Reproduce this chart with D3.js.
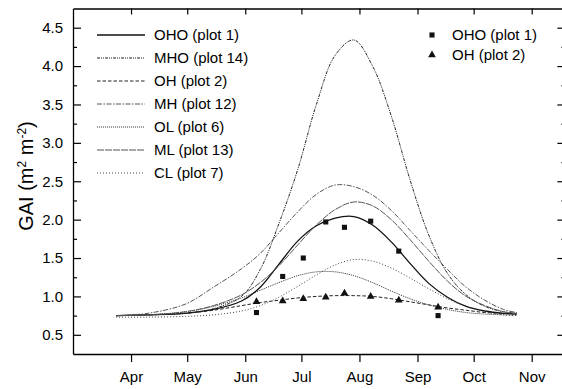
<!DOCTYPE html>
<html>
<head>
<meta charset="utf-8">
<script src="https://cdn.jsdelivr.net/npm/d3@7"></script>
<style>
  html, body { margin: 0; padding: 0; background: #fff; }
  svg { display: block; font-family: "Liberation Sans", Arial, sans-serif; }
</style>
</head>
<body>
<svg id="chart" width="562" height="389"></svg>
<script>
// Sampling dates of the fitted GAI curves (2005 calendar)
const curveDates = ["2005-03-24","2005-04-10","2005-04-30","2005-05-15","2005-05-30","2005-06-09",
  "2005-06-19","2005-06-29","2005-07-09","2005-07-19","2005-07-29","2005-08-08","2005-08-18",
  "2005-08-28","2005-09-07","2005-09-17","2005-09-27","2005-10-07","2005-10-17","2005-10-24"];

// Fitted green area index per treatment (m2 m-2)
const gaiOHO = [0.75,0.76,0.78,0.83,0.94,1.12,1.42,1.72,1.92,2.02,2.04,1.93,1.71,1.43,1.17,0.99,0.87,0.81,0.78,0.77];
const gaiMHO = [0.75,0.76,0.78,0.84,1.00,1.35,1.95,2.65,3.50,4.14,4.34,4.00,3.35,2.52,1.80,1.30,1.02,0.87,0.80,0.78];
const gaiOH  = [0.75,0.76,0.78,0.82,0.88,0.92,0.95,0.98,1.00,1.01,1.01,1.00,0.97,0.93,0.89,0.85,0.82,0.79,0.78,0.77];
const gaiMH  = [0.75,0.78,0.90,1.12,1.36,1.56,1.83,2.10,2.33,2.45,2.43,2.32,2.12,1.86,1.60,1.35,1.12,0.95,0.83,0.79];
const gaiOL  = [0.75,0.76,0.80,0.87,0.98,1.08,1.18,1.27,1.32,1.32,1.27,1.18,1.07,0.97,0.89,0.83,0.79,0.77,0.76,0.76];
const gaiML  = [0.75,0.76,0.80,0.88,1.02,1.18,1.40,1.67,1.93,2.13,2.23,2.18,2.00,1.74,1.46,1.20,1.00,0.88,0.80,0.78];
const gaiCL  = [0.73,0.73,0.74,0.76,0.81,0.88,0.99,1.13,1.28,1.41,1.48,1.46,1.37,1.24,1.10,0.97,0.87,0.80,0.76,0.75];

// Measured GAI on sampling days
const obsDates = ["2005-06-07","2005-06-21","2005-07-02","2005-07-14","2005-07-24","2005-08-07","2005-08-22","2005-09-12"];
const obsOHO = [0.79,1.26,1.50,1.97,1.90,1.98,1.59,0.75];
const obsOH  = [0.93,0.94,0.97,0.99,1.04,1.00,0.95,0.86];

// Axis ticks
const monthTicks = ["2005-04-01","2005-05-01","2005-06-01","2005-07-01","2005-08-01","2005-09-01","2005-10-01","2005-11-01"];
const yTicks = [0.5,1.0,1.5,2.0,2.5,3.0,3.5,4.0,4.5];
const yMinorTicks = [0.75,1.25,1.75,2.25,2.75,3.25,3.75,4.25];

const curveLabels = ["OHO (plot 1)","MHO (plot 14)","OH (plot 2)","MH (plot 12)","OL (plot 6)","ML (plot 13)","CL (plot 7)"];
const pointLabels = ["OHO (plot 1)","OH (plot 2)"];

const parse = d3.timeParse("%Y-%m-%d");
const svg = d3.select("#chart");

const x = d3.scaleTime()
  .domain([parse("2005-03-01"), parse("2005-11-19")])
  .range([73, 565.4]);
const y = d3.scaleLinear().domain([0.25, 4.75]).range([354, 8.5]);

const curves = [
  { name: curveLabels[0], values: gaiOHO, stroke: "#111", width: 1.3, dash: null },
  { name: curveLabels[1], values: gaiMHO, stroke: "#222", width: 1.0, dash: "3,1,1,1,1,1" },
  { name: curveLabels[2], values: gaiOH,  stroke: "#222", width: 1.0, dash: "3.5,2" },
  { name: curveLabels[3], values: gaiMH,  stroke: "#555", width: 1.0, dash: "5,1.5,1.5,1.5" },
  { name: curveLabels[4], values: gaiOL,  stroke: "#333", width: 1.0, dash: "1,1" },
  { name: curveLabels[5], values: gaiML,  stroke: "#555", width: 1.0, dash: "7,1" },
  { name: curveLabels[6], values: gaiCL,  stroke: "#444", width: 1.0, dash: "1,2" }
];

const line = d3.line()
  .x(d => x(d.date))
  .y(d => y(d.v))
  .curve(d3.curveCatmullRom.alpha(0.5));

const plot = svg.append("g");
curves.forEach(c => {
  const pts = curveDates.map((s, i) => ({ date: parse(s), v: c.values[i] }));
  plot.append("path")
    .datum(pts)
    .attr("d", line)
    .attr("fill", "none")
    .attr("stroke", c.stroke)
    .attr("stroke-width", c.width)
    .attr("stroke-dasharray", c.dash);
});

// Observed points
const sq = d3.symbol().type(d3.symbolSquare).size(26);
const tri = d3.symbol().type(d3.symbolTriangle).size(26);
plot.selectAll(".obs-oho").data(obsDates).enter().append("path")
  .attr("d", sq)
  .attr("transform", (d, i) => `translate(${x(parse(d))},${y(obsOHO[i])})`)
  .attr("fill", "#111");
plot.selectAll(".obs-oh").data(obsDates).enter().append("path")
  .attr("d", tri)
  .attr("transform", (d, i) => `translate(${x(parse(d))},${y(obsOH[i])})`)
  .attr("fill", "#111");

// Axes: bottom ticks outward, the rest inward
const tickVals = monthTicks.map(parse);
const axisStyle = g => {
  g.select(".domain").attr("stroke", "#000").attr("stroke-width", 1.3);
  g.selectAll(".tick line").attr("stroke", "#000").attr("stroke-width", 1.2);
  g.selectAll(".tick text").attr("fill", "#000").style("font-size", "15px")
    .style("font-family", "'Liberation Sans', Arial, sans-serif");
};

svg.append("g").attr("transform", "translate(0,354)")
  .call(d3.axisBottom(x).tickValues(tickVals).tickFormat(d3.timeFormat("%b"))
    .tickSize(8).tickSizeOuter(0).tickPadding(9))
  .call(axisStyle);

svg.append("g").attr("transform", "translate(0,8.5)")
  .call(d3.axisTop(x).tickValues(tickVals).tickFormat("").tickSize(-6).tickSizeOuter(0))
  .call(axisStyle);

svg.append("g").attr("transform", "translate(73,0)")
  .call(d3.axisLeft(y).tickValues(yTicks).tickFormat(d3.format(".1f"))
    .tickSize(-8).tickSizeOuter(0).tickPadding(10))
  .call(axisStyle);
svg.append("g").attr("transform", "translate(73,0)")
  .call(d3.axisLeft(y).tickValues(yMinorTicks).tickFormat("").tickSize(-4).tickSizeOuter(0))
  .call(g => g.select(".domain").remove())
  .call(axisStyle);

svg.append("g").attr("transform", "translate(565.4,0)")
  .call(d3.axisRight(y).tickValues(yTicks).tickFormat("").tickSize(-8).tickSizeOuter(0))
  .call(axisStyle);
svg.append("g").attr("transform", "translate(565.4,0)")
  .call(d3.axisRight(y).tickValues(yMinorTicks).tickFormat("").tickSize(-4).tickSizeOuter(0))
  .call(g => g.select(".domain").remove())
  .call(axisStyle);

// Y axis title
const title = svg.append("text")
  .attr("transform", "translate(33,176) rotate(-90)")
  .attr("text-anchor", "middle")
  .style("font-size", "20px")
  .attr("fill", "#000");
title.append("tspan").text("GAI (m");
title.append("tspan").attr("baseline-shift", "super").style("font-size", "12px").text("2");
title.append("tspan").text(" m");
title.append("tspan").attr("baseline-shift", "super").style("font-size", "12px").text("-2");
title.append("tspan").text(")");

// Curve legend
const leg = svg.append("g");
curves.forEach((c, i) => {
  const ly = 35 + i * 23;
  leg.append("line").attr("x1", 97).attr("x2", 145).attr("y1", ly).attr("y2", ly)
    .attr("stroke", c.stroke).attr("stroke-width", c.width).attr("stroke-dasharray", c.dash);
  leg.append("text").attr("x", 154).attr("y", ly).attr("dy", "0.35em")
    .style("font-size", "15px").attr("fill", "#000").text(c.name);
});

// Point legend
const pLeg = svg.append("g");
pLeg.append("path").attr("d", sq).attr("transform", "translate(432,35)").attr("fill", "#111");
pLeg.append("path").attr("d", tri).attr("transform", "translate(432,55)").attr("fill", "#111");
pointLabels.forEach((t, i) => {
  pLeg.append("text").attr("x", 452).attr("y", 35 + i * 20).attr("dy", "0.35em")
    .style("font-size", "15px").attr("fill", "#000").text(t);
});
</script>
</body>
</html>
